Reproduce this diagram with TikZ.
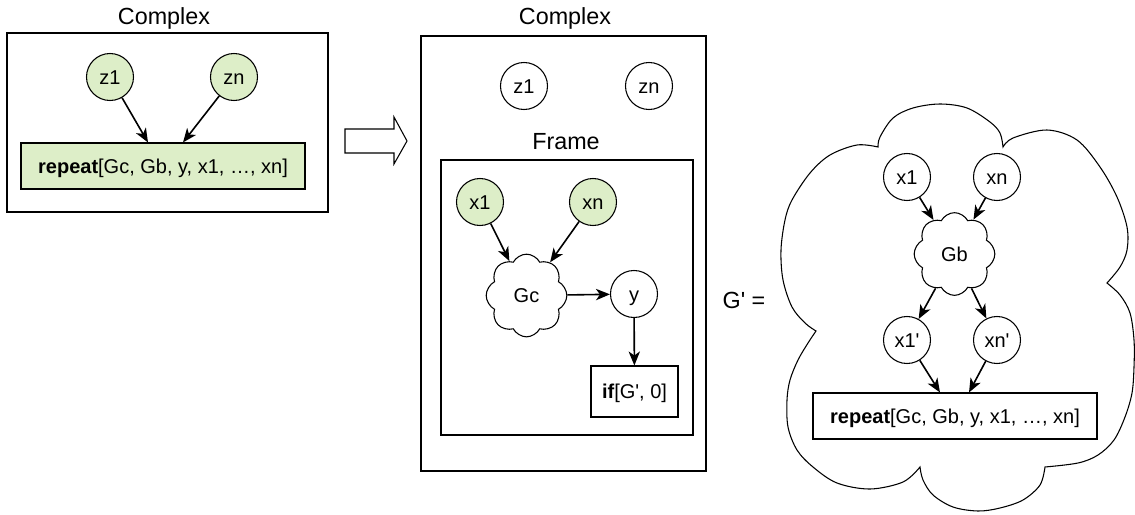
\documentclass[tikz,border=0pt]{standalone}
\usepackage{fontspec}
\setmainfont{Liberation Sans}
\usetikzlibrary{arrows.meta,shapes.symbols}
\definecolor{leafgreen}{RGB}{221,238,200}
\begin{document}
\begin{tikzpicture}[x=0.75pt,y=-0.75pt,
  every node/.style={font=\fontsize{15pt}{18pt}\selectfont, text=black, text height=10.5pt, text depth=0pt},
  title/.style={font=\fontsize{17.5pt}{21pt}\selectfont, text height=12.5pt},
  panel/.style={draw, line width=0.8pt, inner sep=0pt},
  var/.style={circle, draw, line width=0.8pt, minimum size=35.25pt, inner sep=0pt},
  given/.style={var, fill=leafgreen},
  blob/.style={cloud, cloud puffs=8, cloud puff arc=125, draw, line width=0.8pt, inner sep=0pt,
               minimum width=60.5pt, minimum height=62pt},
  op/.style={draw, line width=0.8pt, inner sep=0pt},
  arr/.style={-{Stealth[length=10.5pt,width=8.5pt,inset=3pt]}, line width=1.2pt},
  hollow/.style={draw, line width=0.8pt, line join=miter},
]
\useasboundingbox (0,0) rectangle (1135,514);

% ---------- left: the complex with its repeat operator ----------
\node[title] (t1) at (164,16) {Complex};
\node[panel, minimum width=240.75pt, minimum height=134.25pt] (cx1) at (167.5,122.5) {};
\node[given] (lz1) at (110,77) {z1};
\node[given] (lzn) at (234,77) {zn};
\node[op, fill=leafgreen, minimum width=213pt, minimum height=34.5pt] (lrep) at (163,166)
  {\textbf{repeat}[Gc, Gb, y, x1, …, xn]};
\draw[arr] (lz1) -- ([xshift=-11.25pt]lrep.north);
\draw[arr] (lzn) -- ([xshift=15pt]lrep.north);

% ---------- block arrow ----------
\draw[hollow] (345,129) -- (394,129) -- (394,117) -- (407,141) -- (394,164) -- (394,153) -- (345,153) -- cycle;

% ---------- middle: the unrolled complex ----------
\node[title] (t2) at (565,16) {Complex};
\node[panel, minimum width=213.75pt, minimum height=326.25pt] (cx2) at (563.5,253.5) {};
\node[var] (mz1) at (524,86) {z1};
\node[var] (mzn) at (649,86) {zn};
\node[title] (t3) at (566,141) {Frame};
\node[panel, minimum width=189pt, minimum height=206.25pt] (frame) at (567,297.5) {};
\node[given] (mx1) at (480,202) {x1};
\node[given] (mxn) at (593,202) {xn};
\node[blob] (gc) at (526.5,295.5) {Gc};
\node[var] (my) at (634,294) {y};
\node[op, minimum width=65.25pt, minimum height=38.25pt] (mif) at (634.5,391.5)
  {\textbf{if}[G\textquotesingle, 0]};
\draw[arr] (mx1) -- (gc);
\draw[arr] (mxn) -- (gc);
\draw[arr] (gc) -- (my);
\draw[arr] (my) -- (mif);

% ---------- right: definition of G' ----------
\node[title] (geq) at (744,300) {G\textquotesingle{} =};
\draw[line width=0.8pt]
  plot[smooth, tension=0.55] coordinates {(878,147) (880,137) (893,118) (913,108) (940,104) (967,108) (990,122) (1000,133) (1003,147)}
  -- plot[smooth, tension=0.55] coordinates {(1003,147) (1013,138) (1047,130) (1077,140) (1100,167) (1117,197) (1127,227) (1127,250) (1120,267) (1107,283)}
  -- plot[smooth, tension=0.55] coordinates {(1107,283) (1120,295) (1130,313) (1134,340) (1134,367) (1132,393) (1125,417) (1114,440) (1098,455) (1078,463) (1045,467)}
  -- plot[smooth, tension=0.55] coordinates {(1045,467) (1040,485) (1023,500) (1000,508) (978,511) (953,507) (933,495) (923,480) (920,467)}
  -- plot[smooth, tension=0.55] coordinates {(920,467) (903,482) (870,489) (837,483) (813,467) (797,450) (788,427) (787,400) (790,380) (798,360) (808,343) (816,331)}
  -- plot[smooth, tension=0.55] coordinates {(816,331) (805,323) (792,307) (783,280) (781,250) (785,220) (792,200) (810,173) (830,155) (857,145) (878,147)}
  -- cycle;
\node[var] (rx1) at (907,177) {x1};
\node[var] (rxn) at (997,177) {xn};
\node[blob] (gb) at (954.5,254) {Gb};
\node[var] (rx1p) at (907,340) {x1\textquotesingle};
\node[var] (rxnp) at (997,340) {xn\textquotesingle};
\node[op, minimum width=213pt, minimum height=34.5pt] (rrep) at (955,416)
  {\textbf{repeat}[Gc, Gb, y, x1, …, xn]};
\draw[arr] (rx1) -- (gb);
\draw[arr] (rxn) -- (gb);
\draw[arr] (gb) -- (rx1p);
\draw[arr] (gb) -- (rxnp);
\draw[arr] (rx1p) -- ([xshift=-11.25pt]rrep.north);
\draw[arr] (rxnp) -- ([xshift=10.5pt]rrep.north);
\end{tikzpicture}
\end{document}
